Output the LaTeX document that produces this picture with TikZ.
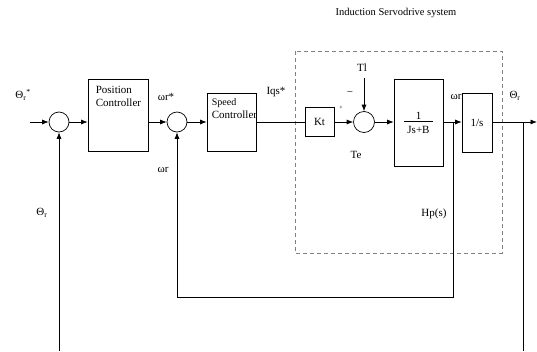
\documentclass[tikz,border=0pt]{standalone}
\usepackage{fontspec}
\setmainfont{Liberation Serif}
\usetikzlibrary{arrows.meta}
\begin{document}
\begin{tikzpicture}[x=1pt,y=-1pt,
  font=\fontsize{11}{13}\selectfont,
  >={Latex[length=6.5pt,width=5pt]},
  blk/.style={draw,line width=0.7pt,inner sep=0pt},
  sumc/.style={draw,line width=0.7pt,circle,minimum size=20pt,inner sep=0pt},
  lbl/.style={inner sep=0pt},
  sig/.style={line width=0.7pt}]
\useasboundingbox (0,0) rectangle (537,351);

\draw[gray,dashed,line width=0.8pt,dash pattern=on 4pt off 3pt] (295,51) rectangle (502,253);
\node[lbl] (title) at (396,13) {\fontsize{10.5}{12}\selectfont Induction Servodrive system};

\node[sumc] (s1) at (59,122) {};
\node[blk,minimum width=60pt,minimum height=72pt] (pc) at (118,115) {};
\node[lbl,anchor=north west,align=left] (pct) at ([xshift=8pt,yshift=-7pt]pc.north west) {Position\\Controller};
\node[sumc] (s2) at (177,122) {};
\node[blk,minimum width=49pt,minimum height=58pt] (sc) at (231.5,122) {};
\node[lbl,anchor=north west,align=left] (sct) at ([xshift=5pt,yshift=-6pt]sc.north west) {\fontsize{10}{12}\selectfont Speed\\Controller};
\node[blk,minimum width=29pt,minimum height=29pt] (kt) at (319.5,122) {Kt};
\node[sumc,minimum size=21pt] (s3) at (364,122) {};
\node[blk,minimum width=49pt,minimum height=87pt] (jb) at (418.5,122.5) {\shortstack{1\\[-1pt]\rule{29pt}{0.7pt}\\[1pt]Js+B}};
\node[blk,minimum width=30pt,minimum height=59pt] (ins) at (477,122.5) {1/s};

\node[lbl] (thref) at (23,95) {Θ\textsubscript{r}\textsuperscript{*}};
\node[lbl] (wref) at (166,97) {ωr*};
\node[lbl] (wfb) at (163,170) {ωr};
\node[lbl] (thfb) at (42,213) {Θ\textsubscript{r}};
\node[lbl] (iqs) at (276,92) {Iqs*};
\node[lbl] (plus) at (341,108) {\fontsize{6}{6}\selectfont +};
\node[lbl] (minus) at (350,94) {−};
\node[lbl] (tl) at (362,68) {Tl};
\node[lbl] (te) at (356,155) {Te};
\node[lbl] (wout) at (456,97) {ωr};
\node[lbl] (thout) at (515,96) {Θ\textsubscript{r}};
\node[lbl] (hp) at (434,214) {Hp(s)};

\coordinate (in) at (30,122);
\coordinate (tltop) at (364,78);
\coordinate (out) at (537,122);
\coordinate (wtap) at (453,122);
\coordinate (wbot) at (453,297);
\coordinate (ttap) at (523,122);
\coordinate (tbot) at (523,351);
\coordinate (lbot) at (59,351);

\draw[sig,->] (in) -- (s1.west);
\draw[sig,->] (s1.east) -- (s1.east -| pc.west);
\draw[sig,->] (s2.west -| pc.east) -- (s2.west);
\draw[sig,->] (s2.east) -- (sc.west);
\draw[sig] (sc.east) -- (kt.west);
\draw[sig,->] (kt.east) -- (s3.west);
\draw[sig,->] (tltop) -- (s3.north);
\draw[sig,->] (s3.east) -- (s3.east -| jb.west);
\draw[sig,->] (s3.east -| jb.east) -- (s3.east -| ins.west);
\draw[sig,->] (s3.east -| ins.east) -- (out);
\draw[sig,->] (wtap) -- (wbot) -| (s2.south);
\draw[sig] (ttap) -- (tbot);
\draw[sig,->] (lbot) -- (s1.south);
\end{tikzpicture}
\end{document}
